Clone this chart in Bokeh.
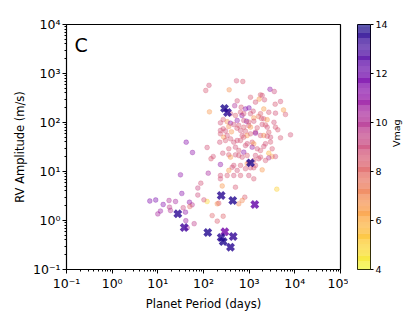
import numpy as np
from bokeh.plotting import figure
from bokeh.models import ColumnDataSource, Label, FixedTicker, CustomJSTickFormatter
from bokeh.layouts import row
from bokeh.palettes import Plasma256
from bokeh.transform import linear_cmap
from bokeh.embed import file_html
from bokeh.resources import INLINE

# ---- known planets (circles) ----
known_period = [132, 112, 528, 725, 365, 2858, 3548, 1770, 1928, 1656, 1069, 2164, 135, 547,
                482, 668, 1375, 4853, 3715, 830, 991, 1225, 2089, 5649, 6237, 3767, 2690,
                390, 501, 646, 697, 762, 1069, 1600, 1770, 873, 1862, 1262,
                235, 270, 330, 390, 460, 547, 593, 762, 981, 1262, 2089, 2483, 3493,
                270, 303, 410, 358, 541, 646, 762, 981, 1069, 1500, 1928, 2277, 2483, 3767,
                235, 830, 1375, 2690, 4236, 1375, 703, 905, 1069, 1770, 2089, 2483, 2931,
                4853, 8035, 235, 278, 330, 390, 547, 762, 227, 303, 460, 646, 905, 1164,
                1262, 2277, 2931, 830, 41.8, 120, 57.4, 358, 501, 593, 762, 1164, 1500,
                1770, 2089, 3192, 163, 146, 264, 358, 390, 501, 593, 703, 905, 1375, 1770,
                2690, 3192, 3767, 2690, 1262, 1624, 2277, 235, 460, 646, 425, 830, 905,
                1069, 1262, 1928, 981, 1375, 358, 547, 127, 31.3, 235, 330, 460, 646, 981,
                1262, 235, 87.3, 75, 75, 257, 501, 4027, 33.5, 802, 703, 593, 216, 200,
                120, 102, 155, 200, 270, 6.67, 8.98, 13.1, 17.6, 24.4, 49.3, 56.5, 35.9,
                50.1, 9.98, 11.4, 18, 18.9, 40.3, 41, 44, 62.5]
known_k = [574, 450, 710, 687, 465, 476, 429, 367, 356, 299, 327, 291, 165, 277,
           220, 205, 260, 268, 236, 189, 198, 170, 189, 180, 146, 155, 162,
           151, 139, 162, 139, 151, 151, 133, 151, 106, 121, 124,
           98.6, 115, 104, 96.8, 91, 110, 86.9, 110, 102, 106, 119, 114, 101,
           74.4, 67.1, 64.6, 82.8, 76.5, 68.7, 80.2, 86.9, 80.2, 78, 91, 88.9, 80.2, 80.2,
           68.7, 66.4, 63.4, 63.4, 71, 60.5, 54.3, 54.3, 58.8, 54.3, 54.3, 52.5, 50.1,
           48.7, 56.1, 58.8, 50.1, 54.3, 46.5, 42.9, 50.1, 39.6, 42.9, 39.6, 42.9, 36.8, 39.6,
           36.8, 36.8, 40, 33.9, 39.6, 30.9, 24.4, 29.1, 31.3, 26.8, 24.8, 31.3, 29.1,
           26.8, 32.4, 29.1, 20.2, 18.2, 23.6, 21.9, 19.6, 21.9, 21.2, 19.6, 21.2, 21.2, 19.6,
           23.6, 20.2, 20.2, 19.0, 16.8, 18.2, 16.8, 13.9, 13.3, 13.3, 12.2, 11.4, 14.4,
           11.9, 11.9, 10.8, 15.5, 13.3, 10.5, 10.5, 9.23, 8.57, 8.28, 8.28, 8.28, 8.28, 8.28,
           7.1, 7.1, 5.77, 4.6, 3.31, 5.06, 4.78, 4.35, 3.56, 2.99, 2.56, 2.19, 2.25, 2.19,
           2.44, 2.64, 1.26, 0.97, 1.22, 2.5, 2.62, 2.12, 2.56, 2.44, 2.36, 2.09, 1.82,
           1.93, 1.36, 1.56, 1.87, 1.6, 1.48, 0.99, 0.71, 0.86]
known_vmag = [8.8, 8.6, 8.8, 8.6, 6.8, 11.2, 9.0, 8.4, 8.8, 6.6, 8.6, 8.8, 6.6, 8.8,
              10.2, 8.6, 8.8, 8.8, 8.6, 11.4, 11.6, 8.8, 6.4, 6.4, 8.6, 8.8, 8.6,
              8.8, 8.4, 8.6, 11.2, 8.6, 8.8, 7.6, 8.4, 11.4, 8.6, 6.6,
              8.8, 8.6, 6.8, 11.2, 8.8, 11.0, 8.6, 8.8, 8.4, 8.8, 8.6, 6.6, 8.8,
              8.6, 8.8, 6.6, 6.8, 8.6, 8.8, 8.4, 8.8, 6.6, 8.6, 8.8, 8.4, 8.8, 8.6,
              8.8, 8.6, 8.8, 8.4, 8.6, 11.2, 8.8, 6.6, 8.6, 8.8, 6.8, 8.6, 8.8,
              8.6, 8.8, 8.6, 6.6, 8.8, 8.6, 8.8, 8.4, 8.8, 8.6, 8.8, 8.6, 8.8, 8.6,
              6.6, 8.8, 8.6, 8.8, 11.4, 8.8, 11.2, 8.6, 8.8, 8.6, 11.2, 11.0, 8.8,
              8.6, 8.8, 8.6, 8.8, 8.6, 8.8, 8.6, 6.6, 8.8, 8.6, 8.8, 8.4, 8.8, 8.6,
              5.8, 6.6, 8.8, 10.0, 8.6, 8.8, 8.6, 11.2, 8.8, 8.6, 8.8, 8.6, 6.6,
              8.8, 8.6, 6.6, 8.8, 8.6, 6.6, 8.8, 10.4, 11.2, 8.8, 8.6, 8.8, 8.6, 8.8,
              8.6, 8.8, 8.8, 9.2, 9.0, 6.6, 8.6, 5.0, 11.4, 8.4, 7.0, 7.0, 8.6, 6.8,
              4.8, 8.8, 8.2, 8.4, 8.2, 11.6, 11.8, 11.4, 10.2, 10.4, 11.2, 9.8, 9.0,
              8.0, 10.4, 10.8, 9.6, 10.0, 11.2, 10.8, 10.8, 9.6]

# ---- new planets (X markers) ----
new_period = [288, 335, 1070, 244, 437, 1328, 124, 293, 244, 447, 270, 390, 27.4, 37.8]
new_k = [194, 160, 15, 3.24, 2.56, 2.12, 0.569, 0.588, 0.45, 0.471, 0.372, 0.285, 1.37, 0.72]
new_vmag = [13.8, 13.5, 13.8, 13.6, 13.7, 12.2, 13.7, 11.8, 13.6, 13.4, 13.8, 13.6, 13.5, 13.0]

x_tick_values = [1e-1, 1e0, 1e1, 1e2, 1e3, 1e4, 1e5]
y_tick_values = [1e-1, 1e0, 1e1, 1e2, 1e3, 1e4]
cbar_ticks = [4, 6, 8, 10, 12, 14]
vmin, vmax = 4, 14

palette = list(reversed(Plasma256))
FONT = "DejaVu Sans"

src_known = ColumnDataSource(dict(p=known_period, k=known_k, v=known_vmag))
src_new = ColumnDataSource(dict(p=new_period, k=new_k, v=new_vmag))
cmap = linear_cmap("v", palette, vmin, vmax)

p = figure(x_axis_type="log", y_axis_type="log", x_range=(0.1, 1e5), y_range=(0.1, 1e4),
           frame_width=274, frame_height=245, min_border_left=66, min_border_right=8,
           min_border_top=24, min_border_bottom=34,
           output_backend="svg", toolbar_location=None)
p.grid.visible = False
p.outline_line_color = "black"
p.outline_line_width = 1.2
p.background_fill_color = "white"
p.border_fill_color = "white"

p.scatter("p", "k", source=src_known, size=4.8, marker="circle",
          fill_color=cmap, fill_alpha=0.38, line_color=cmap, line_alpha=0.38, line_width=0.7)
p.scatter("p", "k", source=src_new, size=9, marker="x",
          line_color=cmap, line_alpha=0.8, line_width=3.6)

sup = """
const m = {'-':'\u207b','0':'\u2070','1':'\u00b9','2':'\u00b2','3':'\u00b3','4':'\u2074','5':'\u2075','6':'\u2076','7':'\u2077','8':'\u2078','9':'\u2079'};
const e = Math.round(Math.log10(tick));
return '10' + String(e).split('').map(c => m[c]).join('');
"""
minor = []
for e in range(-1, 5):
    for mm in range(2, 10):
        minor.append(mm * 10 ** e)

p.xaxis.ticker = FixedTicker(ticks=x_tick_values, minor_ticks=minor)
p.yaxis.ticker = FixedTicker(ticks=y_tick_values, minor_ticks=minor)
for ax in (p.xaxis[0], p.yaxis[0]):
    ax.formatter = CustomJSTickFormatter(code=sup)
    ax.major_label_text_font = FONT
    ax.major_label_text_font_size = "12.5px"
    ax.major_label_text_color = "black"
    ax.axis_label_text_font = FONT
    ax.axis_label_text_font_size = "11.5px"
    ax.axis_label_text_font_style = "normal"
    ax.axis_label_text_color = "black"
    ax.axis_line_color = "black"
    ax.major_tick_line_color = "black"
    ax.minor_tick_line_color = "black"
    ax.major_tick_out = 4
    ax.major_tick_in = 0
    ax.minor_tick_out = 2
    ax.minor_tick_in = 0
    ax.major_label_standoff = 2
    ax.axis_label_standoff = 3
p.xaxis.axis_label = "Planet Period (days)"
p.yaxis.axis_label = "RV Amplitude (m/s)"

p.add_layout(Label(x=0.15, y=6500, text="C", text_font=FONT, text_font_size="19px",
                   text_baseline="top", text_align="left", text_color="black"))

# ---- colour bar as a separate narrow figure ----
cb = figure(x_range=(0, 1), y_range=(vmin, vmax), frame_width=13, frame_height=245,
            min_border_left=9, min_border_right=4, min_border_top=24, min_border_bottom=34,
            x_axis_location=None, y_axis_location="right",
            output_backend="svg", toolbar_location=None)
cb.grid.visible = False
cb.outline_line_color = "black"
cb.outline_line_width = 1
levels = np.linspace(vmin, vmax, len(palette) + 1)
cb.quad(left=0, right=1, bottom=levels[:-1], top=levels[1:], fill_color=palette,
        fill_alpha=0.85, line_color=None)
ya = cb.yaxis[0]
ya.ticker = FixedTicker(ticks=cbar_ticks)
ya.minor_tick_line_color = None
ya.axis_line_color = None
ya.major_tick_line_color = "black"
ya.major_tick_out = 3
ya.major_tick_in = 0
ya.major_label_standoff = 2
ya.major_label_text_font = FONT
ya.major_label_text_font_size = "9.5px"
ya.major_label_text_color = "black"
ya.axis_label = "Vmag"
ya.axis_label_orientation = np.pi / 2
ya.axis_label_text_font = FONT
ya.axis_label_text_font_size = "9.5px"
ya.axis_label_text_font_style = "normal"
ya.axis_label_text_color = "black"
ya.axis_label_standoff = 6

layout = row(p, cb, spacing=0)
open("out.html", "w").write(file_html(layout, INLINE))
